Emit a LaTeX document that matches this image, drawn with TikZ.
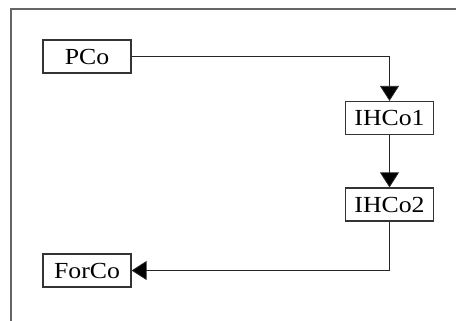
\documentclass[tikz,border=0pt]{standalone}
\usepackage{fontspec}
\setmainfont{Liberation Serif}
\newfontfamily\boxfont[FakeStretch=1.12]{Liberation Serif}
\usetikzlibrary{arrows.meta}
\tikzset{
	cobox/.style={draw=black!80, line width=1.2pt, fill=white, inner sep=0pt,
		minimum width=88pt, minimum height=33pt, font=\boxfont\fontsize{23}{23}\selectfont},
	coline/.style={draw=black!85, line width=0.8pt},
	colink/.style={coline, -{Triangle[width=19pt,length=15pt,fill=black]}}
}

\begin{document}
\begin{tikzpicture}[x=1pt, y=-1pt]
		%%%%% START %%%%%
		
		\useasboundingbox (0, 0) rectangle (456, 321);
		\draw[line width=1.3pt, color=black!60] (11, 321) -- (11, 9) -- (456, 9);
		
		\node[cobox] (PCo) at (87, 56.5) {PCo};
		\node[cobox] (IHCo1) at (389.5, 118) {IHCo1};
		\node[cobox] (IHCo2) at (389.5, 204.5) {IHCo2};
		\node[cobox] (ForCo) at (87, 270.5) {ForCo};
		
		\draw[colink] (PCo.east) -| (IHCo1.north);
		\draw[colink] (IHCo1.south) -- (IHCo2.north);
		\draw[colink] (IHCo2.south) |- (ForCo.east);
		
		%%%%% END %%%%%
	\end{tikzpicture}
\end{document}
